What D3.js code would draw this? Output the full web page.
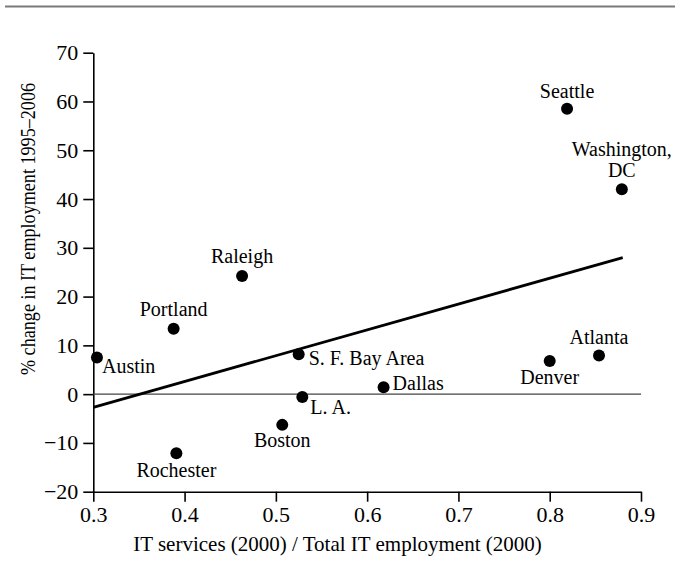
<!DOCTYPE html>
<html>
<head>
<meta charset="utf-8">
<script src="https://cdn.jsdelivr.net/npm/d3@7"></script>
<style>
  html, body { margin: 0; padding: 0; background: #fff; }
  svg { display: block; font-family: "Liberation Serif", "DejaVu Serif", serif; }
</style>
</head>
<body>
<svg id="chart" width="675" height="581"></svg>
<script>
// Metro areas: share of IT services in total IT employment (2000)
// against % change in IT employment 1995–2006
const cities = ["Austin", "Portland", "Rochester", "Raleigh", "Boston", "S. F. Bay Area",
                "L. A.", "Dallas", "Denver", "Seattle", "Atlanta", "Washington, DC"];
const itShare = [0.304, 0.388, 0.391, 0.463, 0.507, 0.525, 0.529, 0.618, 0.800, 0.819, 0.854, 0.879];
const pctChange = [7.5, 13.4, -12.1, 24.2, -6.3, 8.2, -0.6, 1.4, 6.8, 58.5, 7.9, 42.0];

// Fitted trend line end points
const trendX = [0.30, 0.88];
const trendY = [-2.7, 28.0];

const xTicks = [0.3, 0.4, 0.5, 0.6, 0.7, 0.8, 0.9];
const yTicks = [-20, -10, 0, 10, 20, 30, 40, 50, 60, 70];

// Label placement for each city: text anchor, offsets from the dot (px)
const labelPlace = {
  "Austin":         { anchor: "start",  dx: 5,   dy: [15] },
  "Portland":       { anchor: "middle", dx: 0,   dy: [-13] },
  "Rochester":      { anchor: "middle", dx: 0,   dy: [24] },
  "Raleigh":        { anchor: "middle", dx: 0,   dy: [-13] },
  "Boston":         { anchor: "middle", dx: 0,   dy: [22] },
  "S. F. Bay Area": { anchor: "start",  dx: 10,  dy: [11] },
  "L. A.":          { anchor: "start",  dx: 8,   dy: [17] },
  "Dallas":         { anchor: "start",  dx: 9,   dy: [3] },
  "Denver":         { anchor: "middle", dx: 0,   dy: [23] },
  "Seattle":        { anchor: "middle", dx: 0,   dy: [-11] },
  "Atlanta":        { anchor: "middle", dx: 0,   dy: [-12] },
  "Washington, DC": { anchor: "middle", dx: 0,   dy: [-33, -12], lines: ["Washington,", "DC"] }
};

const svg = d3.select("#chart");

// rule across the top
svg.append("line")
  .attr("x1", 5).attr("x2", 675).attr("y1", 6.5).attr("y2", 6.5)
  .attr("stroke", "#7a7a7a").attr("stroke-width", 2.2);

const x = d3.scaleLinear().domain([0.3, 0.9]).range([93.3, 641]);
const y = d3.scaleLinear().domain([-20, 70]).range([491.7, 52.7]);

const xAxis = d3.axisBottom(x).tickValues(xTicks).tickFormat(d3.format(".1f"))
  .tickSize(10).tickSizeOuter(0).tickPadding(5);
const yAxis = d3.axisLeft(y).tickValues(yTicks).tickFormat(d3.format("d"))
  .tickSize(10).tickSizeOuter(0).tickPadding(5);

const gx = svg.append("g").attr("transform", `translate(0,${y(-20)})`).call(xAxis);
const gy = svg.append("g").attr("transform", `translate(${x(0.3)},0)`).call(yAxis);

[gx, gy].forEach(g => {
  g.attr("font-family", null).attr("font-size", 22);
  g.selectAll("path.domain").attr("stroke", "#000").attr("stroke-width", 1.6);
  g.selectAll(".tick line").attr("stroke", "#000").attr("stroke-width", 1.6);
  g.selectAll(".tick text").attr("fill", "#000");
});

// zero reference line
svg.append("line")
  .attr("x1", x(0.3)).attr("x2", x(0.9)).attr("y1", y(0)).attr("y2", y(0))
  .attr("stroke", "#444").attr("stroke-width", 1.3);

// trend line
svg.append("line")
  .attr("x1", x(trendX[0])).attr("y1", y(trendY[0]))
  .attr("x2", x(trendX[1])).attr("y2", y(trendY[1]))
  .attr("stroke", "#000").attr("stroke-width", 2.8);

// points
const pts = cities.map((c, i) => ({ name: c, vx: itShare[i], vy: pctChange[i] }));

svg.append("g").selectAll("circle").data(pts).join("circle")
  .attr("cx", d => x(d.vx)).attr("cy", d => y(d.vy)).attr("r", 6)
  .attr("fill", "#000");

// labels
const lab = svg.append("g").attr("font-size", 20);
pts.forEach(d => {
  const p = labelPlace[d.name];
  const lines = p.lines || [d.name];
  lines.forEach((t, k) => {
    lab.append("text")
      .attr("x", x(d.vx) + p.dx).attr("y", y(d.vy) + p.dy[k])
      .attr("text-anchor", p.anchor).attr("fill", "#000")
      .text(t);
  });
});

// axis titles
svg.append("text")
  .attr("x", 337.5).attr("y", 551)
  .attr("text-anchor", "middle").attr("font-size", 21).attr("fill", "#000")
  .text("IT services (2000) / Total IT employment (2000)");

svg.append("text")
  .attr("transform", "translate(35,229) rotate(-90)")
  .attr("text-anchor", "middle").attr("font-size", 22).attr("fill", "#000")
  .attr("textLength", 292).attr("lengthAdjust", "spacingAndGlyphs")
  .text("% change in IT employment 1995\u20132006");
</script>
</body>
</html>
